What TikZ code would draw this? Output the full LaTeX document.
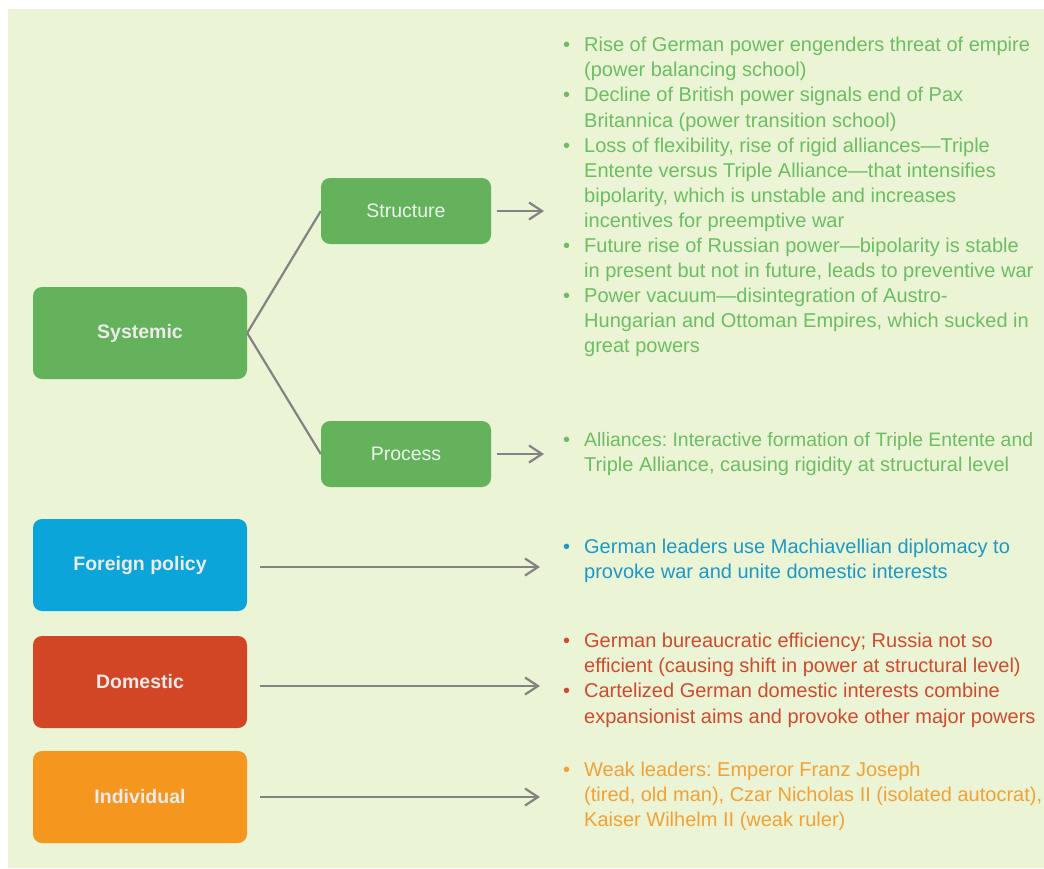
\documentclass[tikz,border=0pt]{standalone}
\usepackage{fontspec}
\setmainfont{Liberation Sans}
\usetikzlibrary{arrows.meta}
\frenchspacing
\definecolor{bgpaper}{HTML}{EBF4D4}
\definecolor{sysgreen}{HTML}{64B25B}
\definecolor{fpblue}{HTML}{0BA5DA}
\definecolor{domred}{HTML}{D24626}
\definecolor{indorange}{HTML}{F5961F}
\definecolor{txtgreen}{HTML}{6CBD63}
\definecolor{txtblue}{HTML}{1E98C6}
\definecolor{txtred}{HTML}{CF4A2E}
\definecolor{txtorange}{HTML}{F2A136}
\definecolor{arrowgray}{HTML}{838383}
\newcommand{\bl}{\textbullet &}
\newenvironment{blist}{\begin{tabular}{@{}p{21pt}@{}l@{}}}{\end{tabular}}
\begin{document}
\begin{tikzpicture}[x=1pt,y=-1pt,
  font=\fontsize{20}{25.1}\selectfont,
  levelbox/.style={draw=none, rounded corners=9pt, minimum width=214pt, minimum height=92pt,
    text=white!92!black, font=\fontsize{19.5}{24}\selectfont\bfseries},
  subbox/.style={draw=none, fill=sysgreen, rounded corners=9pt, minimum width=170pt, minimum height=66pt,
    text=white!88!sysgreen, font=\fontsize{19.5}{24}\selectfont},
  listtext/.style={anchor=north west, inner sep=0pt, align=left},
  link/.style={draw=arrowgray, line width=2.2pt},
  arr/.style={draw=arrowgray, line width=2.4pt, -{Straight Barb[length=13pt,width=17pt,line width=2.2pt]}}
]
\useasboundingbox (0,0) rectangle (1044,868);
\fill[white] (0,0) rectangle (1044,868);
\fill[bgpaper] (8,9) rectangle (1044,868);

% level boxes
\node[levelbox, fill=sysgreen]  (sys) at (140,333) {Systemic};
\node[levelbox, fill=fpblue]    (fp)  at (140,565) {Foreign policy};
\node[levelbox, fill=domred]    (dom) at (140,682) {Domestic};
\node[levelbox, fill=indorange] (ind) at (140,797) {Individual};

% systemic sub-levels
\node[subbox] (str) at (406,211) {Structure};
\node[subbox] (pro) at (406,454) {Process};

% explanations
\node[listtext, text=txtgreen] (strl) at (563,34) {\begin{blist}
\bl Rise of German power engenders threat of empire\\
  & (power balancing school)\\
\bl Decline of British power signals end of Pax\\
  & Britannica (power transition school)\\
\bl Loss of flexibility, rise of rigid alliances---Triple\\
  & Entente versus Triple Alliance---that intensifies\\
  & bipolarity, which is unstable and increases\\
  & incentives for preemptive war\\
\bl Future rise of Russian power---bipolarity is stable\\
  & in present but not in future, leads to preventive war\\
\bl Power vacuum---disintegration of Austro-\\
  & Hungarian and Ottoman Empires, which sucked in\\
  & great powers
\end{blist}};

\node[listtext, text=txtgreen] (prol) at (563,429) {\begin{blist}
\bl {\fontsize{19.4}{25.1}\selectfont Alliances: Interactive formation of Triple Entente and}\\
  & Triple Alliance, causing rigidity at structural level
\end{blist}};

\node[listtext, text=txtblue] (fpl) at (563,536) {\begin{blist}
\bl German leaders use Machiavellian diplomacy to\\
  & provoke war and unite domestic interests
\end{blist}};

\node[listtext, text=txtred] (doml) at (563,630) {\begin{blist}
\bl German bureaucratic efficiency; Russia not so\\
  & efficient (causing shift in power at structural level)\\
\bl Cartelized German domestic interests combine\\
  & expansionist aims and provoke other major powers
\end{blist}};

\node[listtext, text=txtorange] (indl) at (563,759) {\begin{blist}
\bl Weak leaders: Emperor Franz Joseph\\
  & (tired, old man), Czar Nicholas II (isolated autocrat),\\
  & Kaiser Wilhelm II (weak ruler)
\end{blist}};

% connectors
\draw[link] (sys.east) -- (str.west);
\draw[link] (sys.east) -- (pro.west);
\draw[arr, shorten <=6pt, shorten >=19pt] (str.east) -- (str.east -| strl.west);
\draw[arr, shorten <=6pt, shorten >=19pt] (pro.east) -- (pro.east -| prol.west);
\draw[arr, shorten <=13pt, shorten >=23pt] ([yshift=-2pt]fp.east) -- ([yshift=-2pt]fp.east -| fpl.west);
\draw[arr, shorten <=13pt, shorten >=23pt] ([yshift=-4pt]dom.east) -- ([yshift=-4pt]dom.east -| doml.west);
\draw[arr, shorten <=13pt, shorten >=23pt] (ind.east) -- (ind.east -| indl.west);
\end{tikzpicture}
\end{document}
